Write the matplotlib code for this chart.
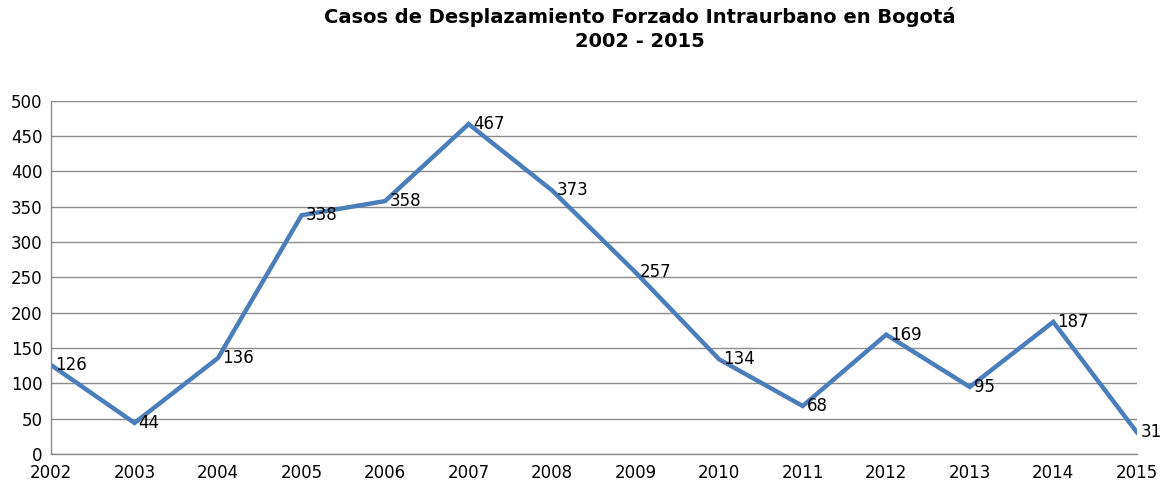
import matplotlib.pyplot as plt

years = [2002, 2003, 2004, 2005, 2006, 2007, 2008, 2009, 2010, 2011, 2012, 2013, 2014, 2015]
casos = [126, 44, 136, 338, 358, 467, 373, 257, 134, 68, 169, 95, 187, 31]
y_ticks = [0, 50, 100, 150, 200, 250, 300, 350, 400, 450, 500]

line_color = '#4A7EBB'
grid_color = '#8C8C8C'

fig = plt.figure(figsize=(11.7, 4.82), dpi=100)
ax = fig.add_axes([0.0436, 0.058, 0.928, 0.733])

ax.plot(years, casos, color=line_color, lw=3.2, solid_joinstyle='miter')
for x, y in zip(years, casos):
  ax.annotate(str(y), (x, y), xytext=(3, 0), textcoords='offset points',
              ha='left', va='center', fontsize=12, color='black')

ax.set_xlim(years[0], years[-1])
ax.set_ylim(0, 500)
ax.set_yticks(y_ticks)
ax.set_xticks(years)
ax.tick_params(axis='both', length=0, labelsize=12, colors='black')
ax.tick_params(axis='y', pad=6)
ax.tick_params(axis='x', pad=7)
ax.yaxis.grid(True, color=grid_color, lw=1)
ax.set_axisbelow(True)
for s in ['top', 'right']:
  ax.spines[s].set_visible(False)
for s in ['left', 'bottom']:
  ax.spines[s].set_color(grid_color)
  ax.spines[s].set_linewidth(1)

fig.text(0.547, 0.985, 'Casos de Desplazamiento Forzado Intraurbano en Bogotá\n2002 - 2015',
         ha='center', va='top', fontsize=14, fontweight='bold',
         family='DejaVu Sans', linespacing=1.3)

fig.savefig('out.png', dpi=100)
